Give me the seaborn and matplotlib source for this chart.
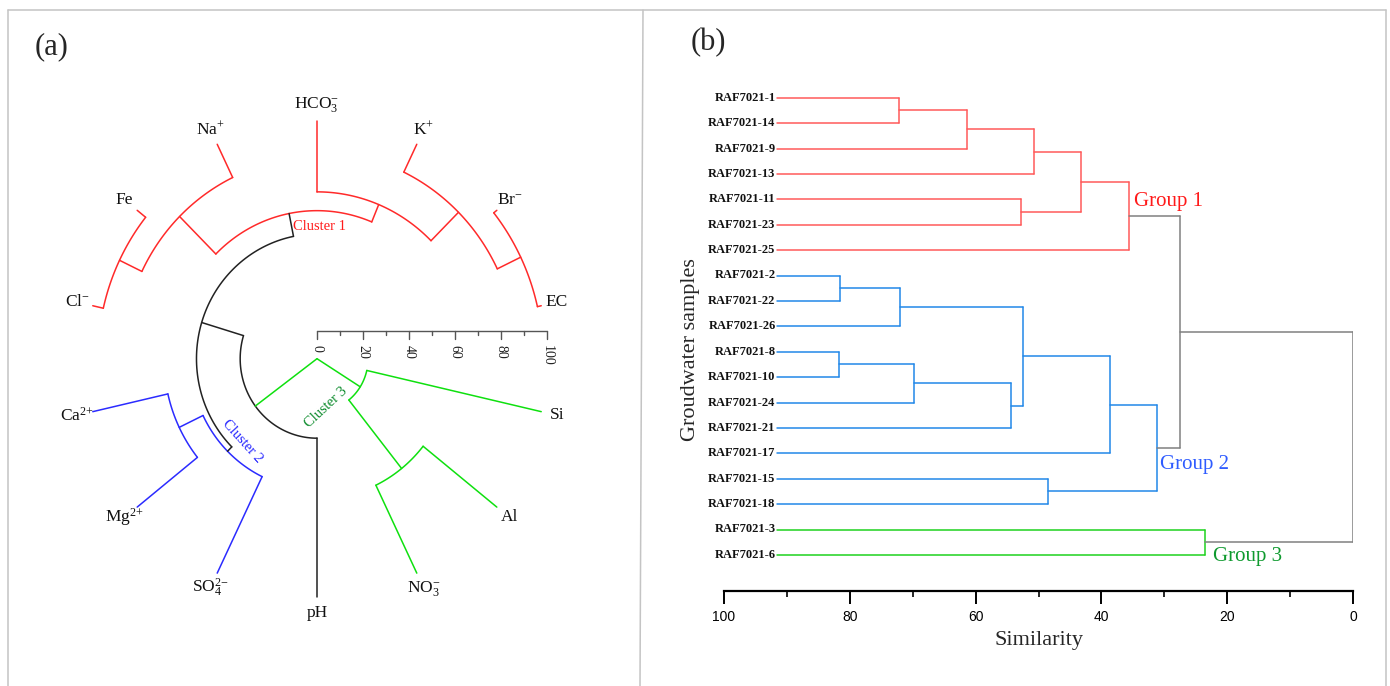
import numpy as np
import seaborn as sns
import matplotlib.pyplot as plt
from matplotlib.lines import Line2D

sns.set_theme(style="white")
plt.rcParams['font.family'] = ['Liberation Serif', 'DejaVu Serif']
plt.rcParams['mathtext.fontset'] = 'custom'
plt.rcParams['mathtext.rm'] = 'Liberation Serif'
plt.rcParams['mathtext.it'] = 'Liberation Serif:italic'
plt.rcParams['mathtext.bf'] = 'Liberation Serif:bold'

# ---------------- data (a): hydrochemical variables ----------------
var_labels = ['EC', r'Br$^{-}$', r'K$^{+}$', r'HCO$_3^{-}$', r'Na$^{+}$', 'Fe', r'Cl$^{-}$',
              r'Ca$^{2{+}}$', r'Mg$^{2{+}}$', r'SO$_4^{2{-}}$', 'pH', r'NO$_3^{-}$', 'Al', 'Si']
# merges: leaves are 0..13, merged nodes numbered from 14
var_left = [1, 5, 2, 4, 3, 7, 18, 11, 19, 20, 23, 21, 24]
var_right = [0, 6, 14, 15, 16, 8, 17, 12, 9, 22, 10, 13, 25]
var_sim = [98.3, 95.3, 87.0, 84.5, 70.1, 66.5, 62.2, 59.0, 55.0, 52.4, 33.4, 22.2, 0.0]
var_group = ['c1', 'c1', 'c1', 'c1', 'c1', 'c2', 'c1', 'c3', 'c2', 'root', 'root', 'c3', 'c3']
scale_ticks = [0, 20, 40, 60, 80, 100]

# ---------------- data (b): groundwater samples ----------------
sample_names = ['RAF7021-1', 'RAF7021-14', 'RAF7021-9', 'RAF7021-13', 'RAF7021-11',
                'RAF7021-23', 'RAF7021-25', 'RAF7021-2', 'RAF7021-22', 'RAF7021-26',
                'RAF7021-8', 'RAF7021-10', 'RAF7021-24', 'RAF7021-21', 'RAF7021-17',
                'RAF7021-15', 'RAF7021-18', 'RAF7021-3', 'RAF7021-6']
smp_left = [0, 19, 20, 4, 21, 23, 7, 25, 10, 27, 28, 26, 30, 15, 31, 17, 24, 35]
smp_right = [1, 2, 3, 5, 22, 6, 8, 9, 11, 12, 13, 29, 14, 16, 32, 18, 33, 34]
smp_sim = [72.2, 61.4, 50.7, 52.8, 43.2, 35.6, 81.6, 72.0, 81.7, 69.8, 54.4, 52.5,
           38.6, 48.5, 31.2, 23.6, 27.5, 0.0]
smp_group = ['g1'] * 6 + ['g2'] * 9 + ['g3'] + ['link', 'link']
leaf_start = 91.5

colors_a = {'c1': '#ff2a2a', 'c2': '#2b2bff', 'c3': '#0fe00f', 'root': '#222222'}
colors_b = {'g1': '#ff5a5a', 'g2': '#2288e8', 'g3': '#1ed21e', 'link': '#808080'}

W, H = 1390, 686
fig = plt.figure(figsize=(W / 100, H / 100), dpi=100)

# ---------------- panel (a) ----------------
ax_a = fig.add_axes([0, 0, 640 / W, 1])
ax_a.set_xlim(-317 / 2.3, 323 / 2.3)
ax_a.set_ylim((358.7 - 686) / 2.38, 358.7 / 2.38)
ax_a.axis('off')

n_var = len(var_labels)
ang = list(180 / n_var + np.arange(n_var) * 360 / n_var)
rad = [100.0] * n_var
for a, b, s in zip(var_left, var_right, var_sim):
    ang.append((ang[a] + ang[b]) / 2)
    rad.append(s)


def pxy(theta, r):
    t = np.deg2rad(theta)
    return r * np.cos(t), r * np.sin(t)


for k, (a, b) in enumerate(zip(var_left, var_right)):
    node = n_var + k
    col = colors_a[var_group[k]]
    r = rad[node]
    t = np.linspace(ang[a], ang[b], 80)
    x, y = pxy(t, r)
    ax_a.plot(x, y, color=col, lw=1.1)
    for c in (a, b):
        x0, y0 = pxy(ang[c], r)
        x1, y1 = pxy(ang[c], rad[c])
        ax_a.plot([x0, x1], [y0, y1], color=col, lw=1.1)

for i, lab in enumerate(var_labels):
    x, y = pxy(ang[i], 107)
    ax_a.text(x, y, lab, ha='center', va='center', fontsize=12.5, color='#111111')

# cluster labels
x, y = pxy(ang[20], 56.5)
ax_a.text(x + 0.6, y, 'Cluster 1', color='#ff1a1a', fontsize=10.5, ha='left', va='center')
x, y = pxy(227, 47.5)
ax_a.text(x, y, 'Cluster 2', color='#2222ff', fontsize=10.5, ha='center', va='center',
          rotation=-48)
x, y = pxy(280.5, 21)
ax_a.text(x, y, 'Cluster 3', color='#0a8a2a', fontsize=10.5, ha='center', va='center',
          rotation=43)

# radial scale bar
sb_y = (358.7 - 330.7) / 2.38
ax_a.plot([0, 100], [sb_y, sb_y], color='#555555', lw=1.0)
for v in range(0, 101, 10):
    ln = 3.4 if v % 20 == 0 else 1.8
    ax_a.plot([v, v], [sb_y, sb_y - ln], color='#555555', lw=1.0)
for v in scale_ticks:
    ax_a.text(v, sb_y - 5.8, str(v), rotation=-90, ha='center', va='top',
              fontsize=10, color='#222222')

fig.text(52 / W, 1 - 47 / H, '(a)', fontsize=22, ha='center', va='center')

# ---------------- panel (b) ----------------
y_top, y_bot = 80, 591
ax_b = fig.add_axes([724 / W, (H - y_bot) / H, 629 / W, (y_bot - y_top) / H])
ax_b.set_xlim(100, 0)
ax_b.set_ylim((y_bot - 97.7) / 25.4, (y_top - 97.7) / 25.4)

n_smp = len(sample_names)
ypos = list(np.arange(n_smp, dtype=float))
xpos = [leaf_start] * n_smp
for a, b, s in zip(smp_left, smp_right, smp_sim):
    ypos.append((ypos[a] + ypos[b]) / 2)
    xpos.append(s)

for k, (a, b) in enumerate(zip(smp_left, smp_right)):
    node = n_smp + k
    col = colors_b[smp_group[k]]
    s = xpos[node]
    ax_b.plot([s, s], [ypos[a], ypos[b]], color=col, lw=1.1)
    for c in (a, b):
        ax_b.plot([xpos[c], s], [ypos[c], ypos[c]], color=col, lw=1.1)

for i, name in enumerate(sample_names):
    ax_b.text(leaf_start + 0.3, i, name, ha='right', va='center', fontsize=9,
              fontweight='bold', color='#111111')

ax_b.text(34.8, 4.1, 'Group 1', color='#ff1a1a', fontsize=15, ha='left', va='center')
ax_b.text(30.7, 14.46, 'Group 2', color='#2f5cff', fontsize=15, ha='left', va='center')
ax_b.text(22.2, 18.07, 'Group 3', color='#0f9a2f', fontsize=15, ha='left', va='center')

sns.despine(ax=ax_b, left=True, top=True, right=True)
ax_b.spines['bottom'].set_color('black')
ax_b.spines['bottom'].set_linewidth(1.6)
ax_b.set_xticks([100, 80, 60, 40, 20, 0])
ax_b.set_xticks([90, 70, 50, 30, 10], minor=True)
ax_b.set_yticks([])
ax_b.tick_params(axis='x', which='major', direction='out', length=9, width=1.4,
                 bottom=True, pad=5, labelsize=10, colors='black')
ax_b.tick_params(axis='x', which='minor', direction='out', length=4.5, width=1.4,
                 bottom=True)
for t in ax_b.get_xticklabels():
    t.set_fontfamily(['Liberation Sans', 'DejaVu Sans'])
ax_b.set_facecolor('none')
ax_b.grid(False)

fig.text(1039 / W, 1 - 641 / H, 'Similarity', fontsize=16, ha='center', va='center')
fig.text(690 / W, 1 - 350 / H, 'Groudwater samples', fontsize=16, ha='center',
         va='center', rotation=90)
fig.text(708 / W, 1 - 43 / H, '(b)', fontsize=22, ha='center', va='center')

# panel frames
frame = dict(color='#c4c4c4', lw=1.1, transform=fig.transFigure)
fig.add_artist(Line2D([8 / W, 1386 / W], [1 - 10 / H, 1 - 10 / H], **frame))
fig.add_artist(Line2D([8 / W, 8 / W], [1 - 10 / H, 0], **frame))
fig.add_artist(Line2D([643 / W, 640 / W], [1 - 10 / H, 0], **frame))
fig.add_artist(Line2D([1386 / W, 1386 / W], [1 - 10 / H, 0], **frame))

fig.savefig('out.png', dpi=100, facecolor='white')
